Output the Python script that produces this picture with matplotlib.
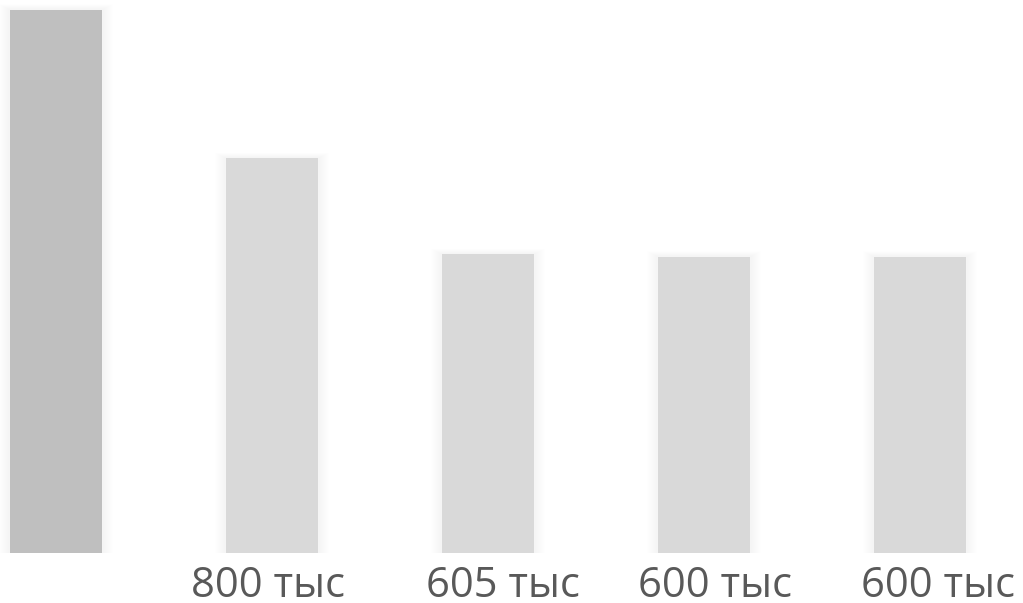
import numpy as np
import matplotlib.pyplot as plt
from matplotlib.patches import Rectangle

# данные (тыс)
values = [1100, 800, 605, 600, 600]
labels = ["", "800 тыс", "605 тыс", "600 тыс", "600 тыс"]
colors = ["#BFBFBF", "#D9D9D9", "#D9D9D9", "#D9D9D9", "#D9D9D9"]
label_shift_px = [0, -4, 15, 11, 18]   # подписи стоят не строго по центру

fig = plt.figure(figsize=(10.23, 6.03), dpi=100)
ax = fig.add_axes([0, 50 / 603, 1, 553 / 603])
ax.set_xlim(-56 / 216, (1023 - 56) / 216)
ax.set_ylim(0, 1120)
ax.axis("off")

width = 92 / 216
px_x = 1 / 216
px_y = 1120 / 553

x = np.arange(len(values))

# мягкая тень вокруг столбцов
for i, v in enumerate(values):
    for k in range(2, 12):
        ax.add_patch(Rectangle((i - width / 2 - k * px_x, 0), width + 2 * k * px_x,
                               v + k * px_y * 0.5, facecolor="black",
                               alpha=0.0025, lw=0, zorder=1))

ax.bar(x, values, width=width, color=colors, zorder=2)

for i, lab in enumerate(labels):
    ax.text(i + label_shift_px[i] * px_x, -44 / 553, lab,
            transform=ax.get_xaxis_transform(),
            ha="center", va="baseline", fontsize=30, color="#595959",
            family=["Open Sans", "DejaVu Sans"], clip_on=False)

fig.savefig("out.png", dpi=100)
